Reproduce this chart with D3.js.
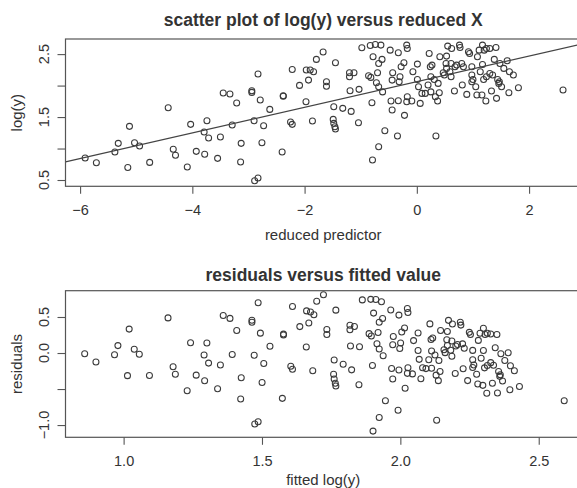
<!DOCTYPE html>
<html><head><meta charset="utf-8">
<script src="https://cdn.jsdelivr.net/npm/d3@7"></script>
<style>
html,body{margin:0;padding:0;background:#fff;}
text{font-family:"Liberation Sans",Arial,Helvetica,sans-serif;fill:#333;}
</style></head>
<body>
<script>
// reduced predictor (x) and log(y)
const predictor = [-5.91,-5.71,-5.38,-5.32,-5.15,-5.12,-5.03,-4.94,-4.76,-4.43,-4.34,-4.30,-4.09,-4.03,-3.93,-3.79,-3.78,-3.74,-3.71,-3.55,-3.50,-3.45,-3.33,-3.29,-3.21,-3.14,-3.13,-2.94,-2.94,-2.90,-2.89,-2.83,-2.83,-2.79,-2.76,-2.73,-2.62,-2.40,-2.38,-2.38,-2.25,-2.22,-2.22,-2.09,
-1.975,-1.97,-1.93,-1.90,-1.84,-1.86,-1.79,-1.67,-1.61,-1.61,-1.48,-1.49,-1.48,-1.46,-1.45,-1.45,-1.32,-1.20,-1.20,-1.12,-1.19,-1.17,-1.04,-1.03,-0.98,-0.86,-0.82,-0.83,-0.74,-0.64,-0.80,-0.78,-0.79,-0.72,-0.70,-0.68,-0.68,-0.62,-0.68,-0.61,-0.57,-0.475,-0.46,-0.44,-0.43,-0.44,-0.345,-0.33,-0.33,-0.315,-0.30,-0.28,-0.23,-0.22,-0.18,-0.17,-0.17,-0.18,-0.09,-0.07,0.01,0.01,0.03,0.06,0.09,0.15,0.20,0.22,0.24,0.27,0.25,0.25,0.31,0.33,0.34,0.37,0.38,0.40,0.41,0.47,0.49,0.52,0.53,0.55,0.53,0.59,0.62,0.61,0.61,0.67,0.68,0.71,0.76,0.77,0.80,0.81,0.83,0.89,0.92,0.94,0.98,0.98,1.00,0.98,1.05,1.07,1.08,1.11,1.13,1.16,1.17,1.17,1.20,1.19,1.23,1.24,1.30,1.24,1.30,1.35,1.33,1.38,1.41,1.42,1.44,1.47,1.46,1.48,1.51,1.55,1.61,1.64,1.65,1.72,1.81,2.605];
const logY = [0.849,0.775,0.944,1.082,0.70,1.352,1.092,1.04,0.78,1.648,0.987,0.892,0.706,1.384,0.955,1.262,0.908,1.441,1.167,0.844,1.183,1.881,1.865,1.373,1.722,0.786,1.082,1.918,1.892,1.441,0.489,0.532,2.183,1.77,1.092,1.362,1.622,0.944,1.829,1.84,1.421,1.384,2.257,2.003,
1.743,2.246,2.087,2.246,2.219,1.437,2.416,2.532,2.06,1.99,1.663,1.463,1.40,1.346,1.31,2.362,1.638,2.203,2.14,2.203,1.918,1.59,1.41,1.94,2.60,2.156,2.13,2.638,2.654,2.643,1.727,2.457,0.817,2.044,2.203,2.352,1.029,2.416,1.98,1.90,1.283,2.563,1.754,1.611,2.203,2.087,1.198,1.759,2.521,2.06,2.14,2.298,2.362,1.527,2.643,2.59,1.822,1.743,1.754,2.22,2.098,2.341,1.98,1.717,1.876,1.876,2.008,2.511,2.298,2.325,2.14,1.90,2.098,1.822,1.198,1.754,2.035,1.886,2.457,2.203,2.167,2.352,2.468,2.627,2.273,2.22,2.59,2.352,2.14,1.913,2.298,2.325,2.643,2.606,2.352,2.008,2.298,1.86,2.536,2.511,2.298,2.167,2.098,2.06,1.98,1.849,2.457,2.563,2.22,1.849,2.336,2.643,2.563,2.098,1.754,2.59,2.59,2.14,2.193,2.167,1.913,2.416,2.606,1.797,2.098,2.06,2.035,2.352,1.98,2.273,2.394,1.886,2.22,2.167,1.965,1.929];

// least-squares line
const fitIntercept = 2.062;
const fitSlope = 0.2035;

const topXTicks = [-6,-4,-2,0,2];
const topXLabels = ["\u22126","\u22124","\u22122","0","2"];
const topYTicks = [0.5,1.0,1.5,2.0,2.5];
const topYLabels = ["0.5","","1.5","","2.5"];
const botXTicks = [1.0,1.5,2.0,2.5];
const botXLabels = ["1.0","1.5","2.0","2.5"];
const botYTicks = [-1.0,-0.5,0.0,0.5];
const botYLabels = ["\u22121.0","","0.0","0.5"];

const fitted = predictor.map(x => fitIntercept + fitSlope * x);
const residuals = logY.map((y, i) => y - fitted[i]);

const W = 577, H = 488;
const svg = d3.select("body").append("svg").attr("width", W).attr("height", H)
  .style("background", "#fff");

const boxColor = "#555", ptColor = "#3a3a3a";
const tickFont = "14.5px", labelFont = "15px", titleFont = "17.5px";

function panel(cfg) {
  const x = d3.scaleLinear().domain(cfg.xDomain).range([cfg.left, cfg.right]);
  const y = d3.scaleLinear().domain(cfg.yDomain).range([cfg.bottom, cfg.top]);
  const g = svg.append("g");
  const clipId = "clip" + cfg.id;
  svg.append("clipPath").attr("id", clipId).append("rect")
    .attr("x", cfg.left).attr("y", cfg.top)
    .attr("width", cfg.right - cfg.left).attr("height", cfg.bottom - cfg.top);

  // x axis
  const xa = g.append("g").attr("transform", `translate(0,${cfg.bottom})`)
    .call(d3.axisBottom(x).tickValues(cfg.xTicks)
      .tickFormat((d, i) => cfg.xLabels[i]).tickSize(7.5).tickSizeOuter(0).tickPadding(10.5));
  xa.select(".domain").remove();
  xa.selectAll("line").attr("stroke", boxColor).attr("stroke-width", 1.1);
  xa.selectAll("text").style("font-size", tickFont).attr("fill", "#333")
    .style("font-family", '"Liberation Sans", Arial, sans-serif');

  // y axis (tick marks)
  const ya = g.append("g").attr("transform", `translate(${cfg.left},0)`)
    .call(d3.axisLeft(y).tickValues(cfg.yTicks).tickFormat("").tickSize(8).tickSizeOuter(0));
  ya.select(".domain").remove();
  ya.selectAll("line").attr("stroke", boxColor).attr("stroke-width", 1.1);
  // rotated labels
  g.selectAll(".ylab").data(cfg.yTicks).enter().append("text")
    .attr("transform", d => `translate(48.5,${y(d)}) rotate(-90)`)
    .attr("text-anchor", "middle")
    .style("font-size", tickFont)
    .text((d, i) => cfg.yLabels[i]);

  // points
  g.append("g").selectAll("circle").data(cfg.xs.map((v, i) => [v, cfg.ys[i]])).enter()
    .append("circle")
    .attr("cx", d => x(d[0])).attr("cy", d => y(d[1])).attr("r", 3)
    .attr("fill", "none").attr("stroke", ptColor).attr("stroke-width", 1.05);

  if (cfg.line) {
    const [x0, x1] = cfg.xDomain;
    g.append("line").attr("clip-path", `url(#${clipId})`)
      .attr("x1", x(x0)).attr("y1", y(cfg.line(x0)))
      .attr("x2", x(x1)).attr("y2", y(cfg.line(x1)))
      .attr("stroke", "#444").attr("stroke-width", 1.1);
  }

  // box
  g.append("rect").attr("x", cfg.left).attr("y", cfg.top)
    .attr("width", cfg.right - cfg.left).attr("height", cfg.bottom - cfg.top)
    .attr("fill", "none").attr("stroke", boxColor).attr("stroke-width", 1.2);

  // title & labels
  const cx = (cfg.left + 581) / 2;
  g.append("text").attr("x", cx).attr("y", cfg.titleY).attr("text-anchor", "middle")
    .style("font-size", titleFont).style("font-weight", "bold").attr("fill", "#222").text(cfg.title);
  g.append("text").attr("x", cx).attr("y", cfg.xLabelY).attr("text-anchor", "middle")
    .style("font-size", labelFont).text(cfg.xLabel);
  g.append("text").attr("transform", `translate(22,${(cfg.top + cfg.bottom) / 2}) rotate(-90)`)
    .attr("text-anchor", "middle").style("font-size", labelFont).text(cfg.yLabel);
}

panel({
  id: "a", left: 65.5, right: 582.4, top: 39, bottom: 186.3,
  xDomain: [-6.26, 2.95], yDomain: [0.40, 2.74],
  xTicks: topXTicks, xLabels: topXLabels, yTicks: topYTicks, yLabels: topYLabels,
  xs: predictor, ys: logY,
  line: x => fitIntercept + fitSlope * x,
  title: "scatter plot of log(y) versus reduced X", titleY: 26,
  xLabel: "reduced predictor", xLabelY: 240, yLabel: "log(y)"
});

panel({
  id: "b", left: 65.5, right: 583, top: 290.7, bottom: 437.3,
  xDomain: [0.79, 2.66], yDomain: [-1.17, 0.865],
  xTicks: botXTicks, xLabels: botXLabels, yTicks: botYTicks, yLabels: botYLabels,
  xs: fitted, ys: residuals,
  title: "residuals versus fitted value", titleY: 281,
  xLabel: "fitted log(y)", xLabelY: 485, yLabel: "residuals"
});
</script>
</body></html>
